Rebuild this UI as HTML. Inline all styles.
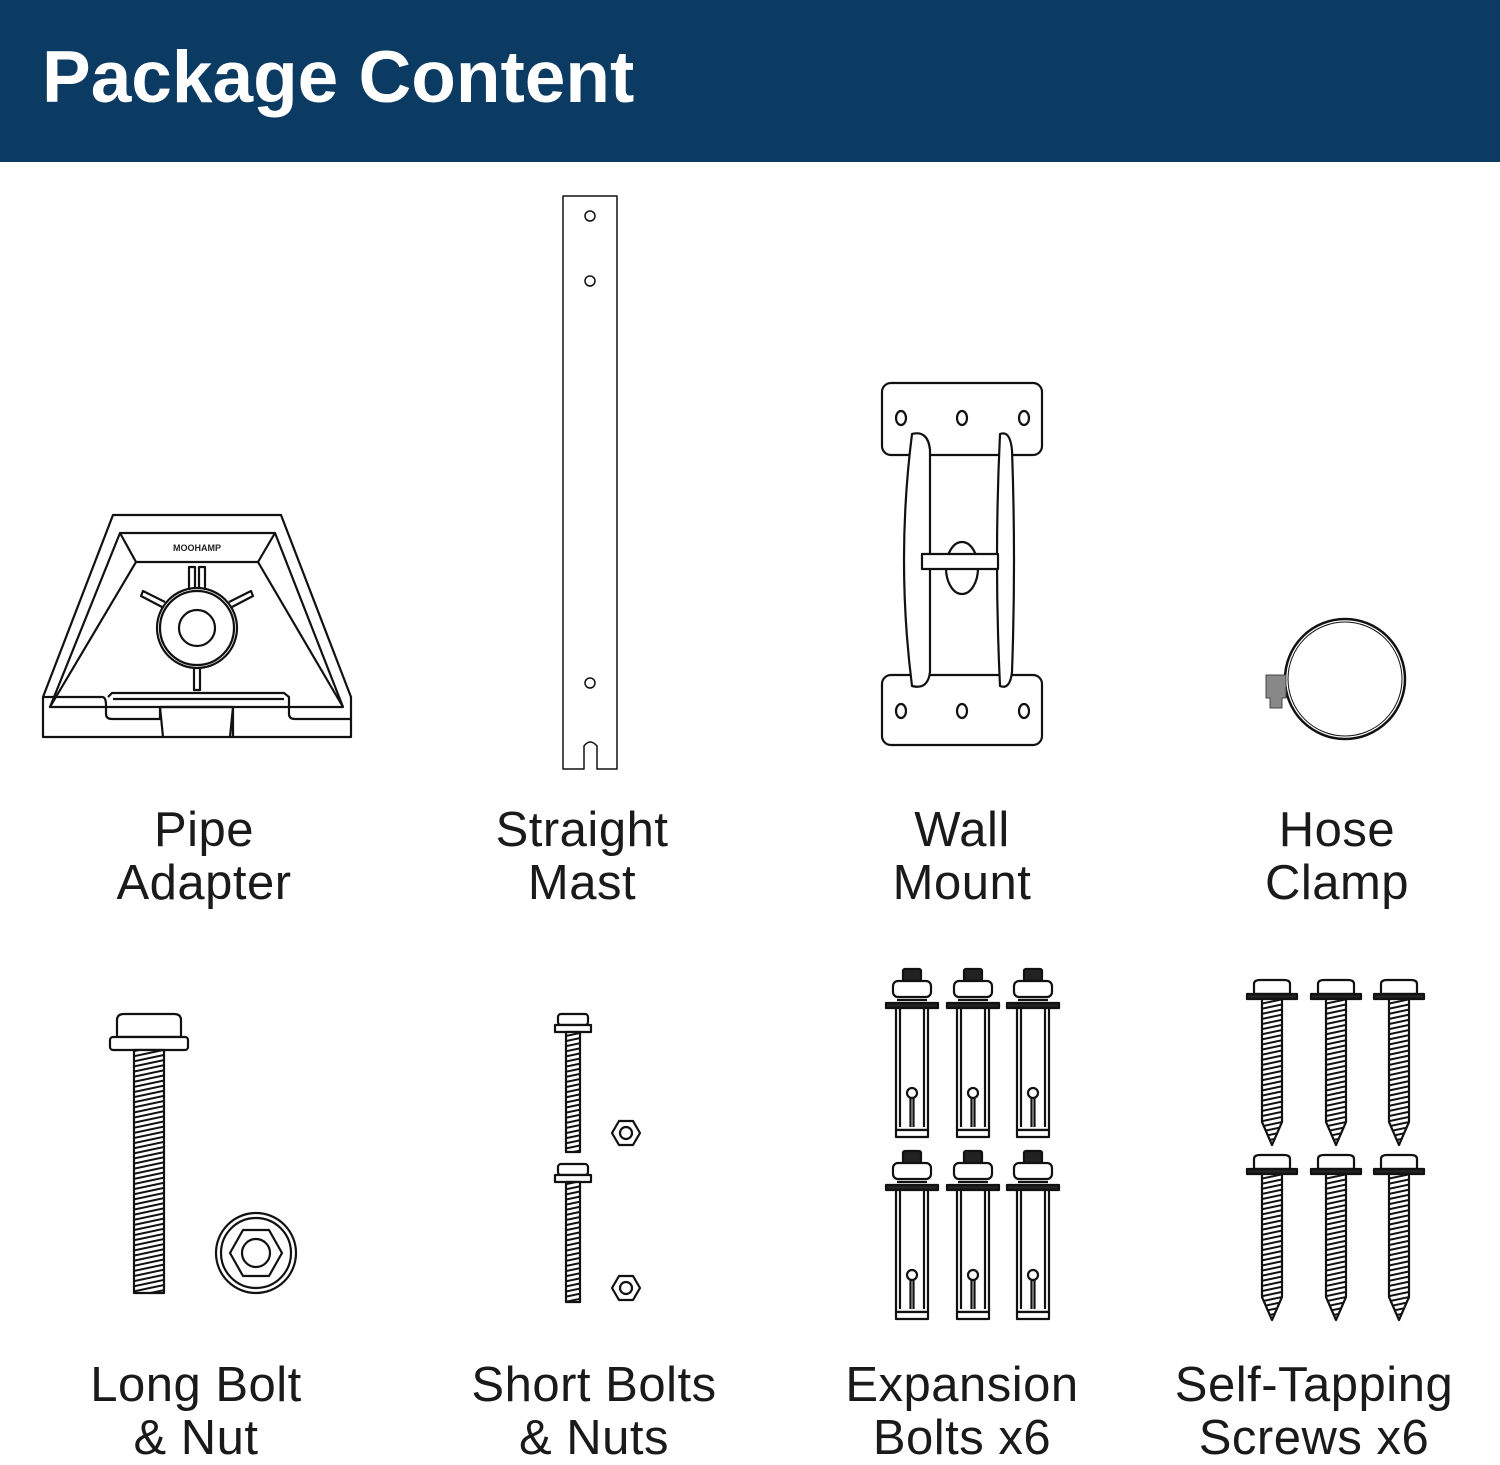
<!DOCTYPE html>
<html><head><meta charset="utf-8"><style>
html,body{margin:0;padding:0;background:#fff;}
body{width:1500px;height:1458px;position:relative;overflow:hidden;font-family:"Liberation Sans",sans-serif;}
.hdr{position:absolute;left:0;top:0;width:1500px;height:162px;background:#0b3a63;}
.hdr h1{position:absolute;left:42px;top:33px;margin:0;color:#fff;font-size:73px;font-weight:bold;line-height:90px;letter-spacing:0px;}
.lbl{position:absolute;text-align:center;font-size:49px;line-height:53px;color:#1a1a1a;width:400px;letter-spacing:0.5px;}
svg{position:absolute;left:0;top:0;}
</style></head><body>
<div class="hdr"><h1>Package Content</h1></div>
<svg width="1500" height="1458" viewBox="0 0 1500 1458" fill="none" stroke="#111" stroke-width="2.2" stroke-linejoin="round">
<defs>
<pattern id="thr" width="6" height="5" patternUnits="userSpaceOnUse" patternTransform="rotate(-12)">
<rect width="6" height="5" fill="#fff" stroke="none"/><line x1="0" y1="1" x2="6" y2="1" stroke="#111" stroke-width="2"/>
</pattern>
<g id="exp">
<rect x="-9" y="0" width="18" height="12" rx="2" fill="#222"/>
<rect x="-19" y="12" width="38" height="16" rx="5" fill="#fff"/>
<line x1="-15" y1="31" x2="15" y2="31"/>
<rect x="-26" y="34" width="52" height="5" fill="#222"/>
<rect x="-16" y="39" width="32" height="122" fill="#fff"/>
<line x1="-12" y1="39" x2="-12" y2="158"/>
<line x1="12" y1="39" x2="12" y2="158"/>
<circle cx="0" cy="124" r="5" fill="#fff"/>
<line x1="-1.5" y1="129" x2="-1.5" y2="158"/><line x1="1.5" y1="129" x2="1.5" y2="158"/>
<path d="M-16 161 H16 V168 H-16 Z" fill="#fff"/>
</g>
<g id="scr">
<path d="M-18 14 V4 Q-18 0 -12 0 H12 Q18 0 18 4 V14 Z" fill="#fff"/>
<rect x="-25" y="14" width="50" height="5" fill="#222"/>
<path d="M-10 19 H10 V142 L0 165 L-10 142 Z" fill="url(#thr)"/>
</g>
</defs>

<path d="M113 515 H281 L351 697 V737 H43 V697 Z" fill="#fff"/>
<path d="M120 533 H275 L343 707 H50 Z"/>
<line x1="136" y1="562" x2="258" y2="562"/>
<line x1="120" y1="533" x2="136" y2="562"/><line x1="275" y1="533" x2="258" y2="562"/>
<line x1="136" y1="562" x2="50" y2="707"/><line x1="258" y1="562" x2="343" y2="707"/>
<text x="197" y="551" font-size="9" font-weight="bold" fill="#222" stroke="none" text-anchor="middle" font-family="Liberation Sans,sans-serif">MOOHAMP</text>
<circle cx="197" cy="628" r="40"/><circle cx="197" cy="628" r="37"/><circle cx="197" cy="628" r="18"/>
<path d="M189 590 V567 H195 V589 M199 589 V567 H205 V590"/>
<path d="M162 607 L141 596 L143 591 L165 602 M229 602 L251 591 L253 596 L232 607"/>
<path d="M194 668 V690 H200 V668"/>
<path d="M43 697 H102 Q106 697 106 705 V714 Q106 719 112 719 H160 V707 M108 697 L112 693 H284 L289 697 L289 714 Q289 719 295 719 H351"/>
<path d="M160 707 H233 V737 M160 707 L163 737 M233 707 L230 737"/>
<line x1="113" y1="699" x2="284" y2="699"/>

<path d="M563 196 H617 V769 H597 V746 Q590 738 584 746 V769 H563 Z" fill="#fff" stroke-width="1.5"/>
<circle cx="590" cy="216" r="5" stroke-width="1.5"/><circle cx="590" cy="281" r="5" stroke-width="1.5"/><circle cx="590" cy="683" r="5" stroke-width="1.5"/>

<rect x="882" y="383" width="160" height="72" rx="9" fill="#fff"/>
<rect x="882" y="675" width="160" height="70" rx="9" fill="#fff"/>
<ellipse cx="901" cy="418" rx="5" ry="7"/><ellipse cx="962" cy="418" rx="5" ry="7"/><ellipse cx="1024" cy="418" rx="5" ry="7"/>
<ellipse cx="901" cy="711" rx="5" ry="7"/><ellipse cx="962" cy="711" rx="5" ry="7"/><ellipse cx="1024" cy="711" rx="5" ry="7"/>
<path d="M912 434 Q928 430 930 450 V672 Q928 690 912 686 Q896 560 912 434 Z" fill="#fff"/>
<path d="M1000 434 Q1010 430 1012 450 Q1016 560 1012 672 Q1010 690 1000 686 Q994 560 1000 434 Z" fill="#fff"/>
<ellipse cx="962" cy="568" rx="16" ry="26" fill="#fff"/>
<rect x="922" y="554" width="76" height="15" fill="#fff"/>

<circle cx="1345" cy="679" r="60" stroke-width="2.5"/>
<circle cx="1345" cy="679" r="57" stroke-width="1"/>
<path d="M1266 675 H1286 V698 H1282 V708 H1270 V698 H1266 Z" fill="#888" stroke="#444" stroke-width="1"/>

<path d="M117 1037 V1020 Q117 1014 124 1014 H174 Q181 1014 181 1020 V1037 Z" fill="#fff"/>
<rect x="110" y="1037" width="78" height="13" rx="3" fill="#fff"/>
<rect x="134" y="1050" width="30" height="243" fill="url(#thr)"/>
<circle cx="256" cy="1253" r="40"/><circle cx="256" cy="1253" r="35"/>
<polygon points="282,1253 269,1276 243,1276 230,1253 243,1230 269,1230"/>
<circle cx="256" cy="1253" r="14"/>

<g>
<rect x="558" y="1014" width="30" height="11" rx="3" fill="#fff"/><rect x="555" y="1025" width="36" height="7" fill="#fff"/>
<rect x="566" y="1032" width="14" height="120" fill="url(#thr)"/>
<rect x="558" y="1164" width="30" height="11" rx="3" fill="#fff"/><rect x="555" y="1175" width="36" height="7" fill="#fff"/>
<rect x="566" y="1182" width="14" height="120" fill="url(#thr)"/>
<polygon points="640,1133 633,1145 619,1145 612,1133 619,1121 633,1121"/><circle cx="626" cy="1133" r="6"/>
<polygon points="640,1288 633,1300 619,1300 612,1288 619,1276 633,1276"/><circle cx="626" cy="1288" r="6"/>
</g>

<use href="#exp" x="912" y="969"/><use href="#exp" x="973" y="969"/><use href="#exp" x="1033" y="969"/>
<use href="#exp" x="912" y="1151"/><use href="#exp" x="973" y="1151"/><use href="#exp" x="1033" y="1151"/>

<use href="#scr" x="1272" y="980"/><use href="#scr" x="1336" y="980"/><use href="#scr" x="1399" y="980"/>
<use href="#scr" x="1272" y="1155"/><use href="#scr" x="1336" y="1155"/><use href="#scr" x="1399" y="1155"/>
</svg>

<div class="lbl" style="left:4px;top:804px">Pipe<br>Adapter</div>
<div class="lbl" style="left:382px;top:804px">Straight<br>Mast</div>
<div class="lbl" style="left:762px;top:804px">Wall<br>Mount</div>
<div class="lbl" style="left:1137px;top:804px">Hose<br>Clamp</div>
<div class="lbl" style="left:-4px;top:1359px">Long Bolt<br>&amp; Nut</div>
<div class="lbl" style="left:394px;top:1359px">Short Bolts<br>&amp; Nuts</div>
<div class="lbl" style="left:762px;top:1359px">Expansion<br>Bolts x6</div>
<div class="lbl" style="left:1114px;top:1359px">Self-Tapping<br>Screws x6</div>
</body></html>
